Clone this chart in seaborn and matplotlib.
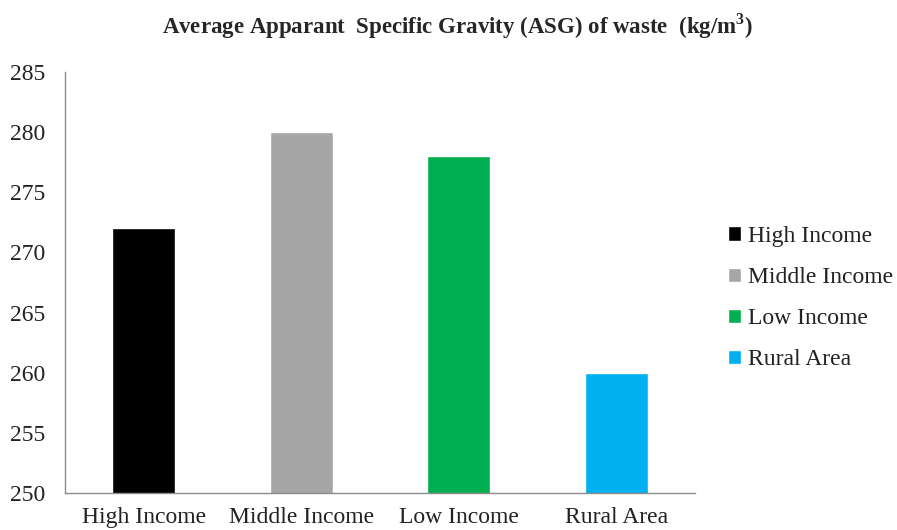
import numpy as np
import pandas as pd
import matplotlib
matplotlib.use("Agg")
import matplotlib.pyplot as plt
import seaborn as sns

categories = ["High Income", "Middle Income", "Low Income", "Rural Area"]
asg_values = [272, 280, 278, 260]
colors = ["#000000", "#A6A6A6", "#00B050", "#00B0F0"]
y_ticks = [250, 255, 260, 265, 270, 275, 280, 285]

df = pd.DataFrame({"area": categories, "asg": asg_values})

sns.set_style("white")
plt.rcParams["font.family"] = ["Liberation Serif", "DejaVu Serif"]

fig = plt.figure(figsize=(8.97, 5.30), dpi=100)
ax = fig.add_axes([0.0725, 0.070, 0.7025, 0.794])

sns.barplot(data=df, x="area", y="asg", hue="area", palette=colors,
            dodge=False, width=0.4, legend=True, ax=ax, saturation=1)

ax.set_ylim(250, 285)
ax.set_yticks(y_ticks)
ax.set_xlim(-0.5, 3.5)
ax.set_xlabel("")
ax.set_ylabel("")
ax.tick_params(axis="both", length=0, labelsize=17, colors="#222222")
ax.tick_params(axis="x", pad=10)
ax.tick_params(axis="y", pad=14)

for side in ["top", "right"]:
    ax.spines[side].set_visible(False)
for side in ["left", "bottom"]:
    ax.spines[side].set_color("#8c8c8c")
    ax.spines[side].set_linewidth(1)

leg = ax.legend(loc="center left", bbox_to_anchor=(1.019, 0.463), frameon=False,
                fontsize=17, handlelength=0.55, handleheight=0.55,
                handletextpad=0.3, labelspacing=0.85)
for t in leg.get_texts():
    t.set_color("#222222")

fig.suptitle("Average Apparant  Specific Gravity (ASG) of waste  (kg/m$^\\mathregular{3}$)",
             x=0.51, y=0.978, fontsize=16.5, fontweight="bold")

fig.savefig("out.png", dpi=100)
